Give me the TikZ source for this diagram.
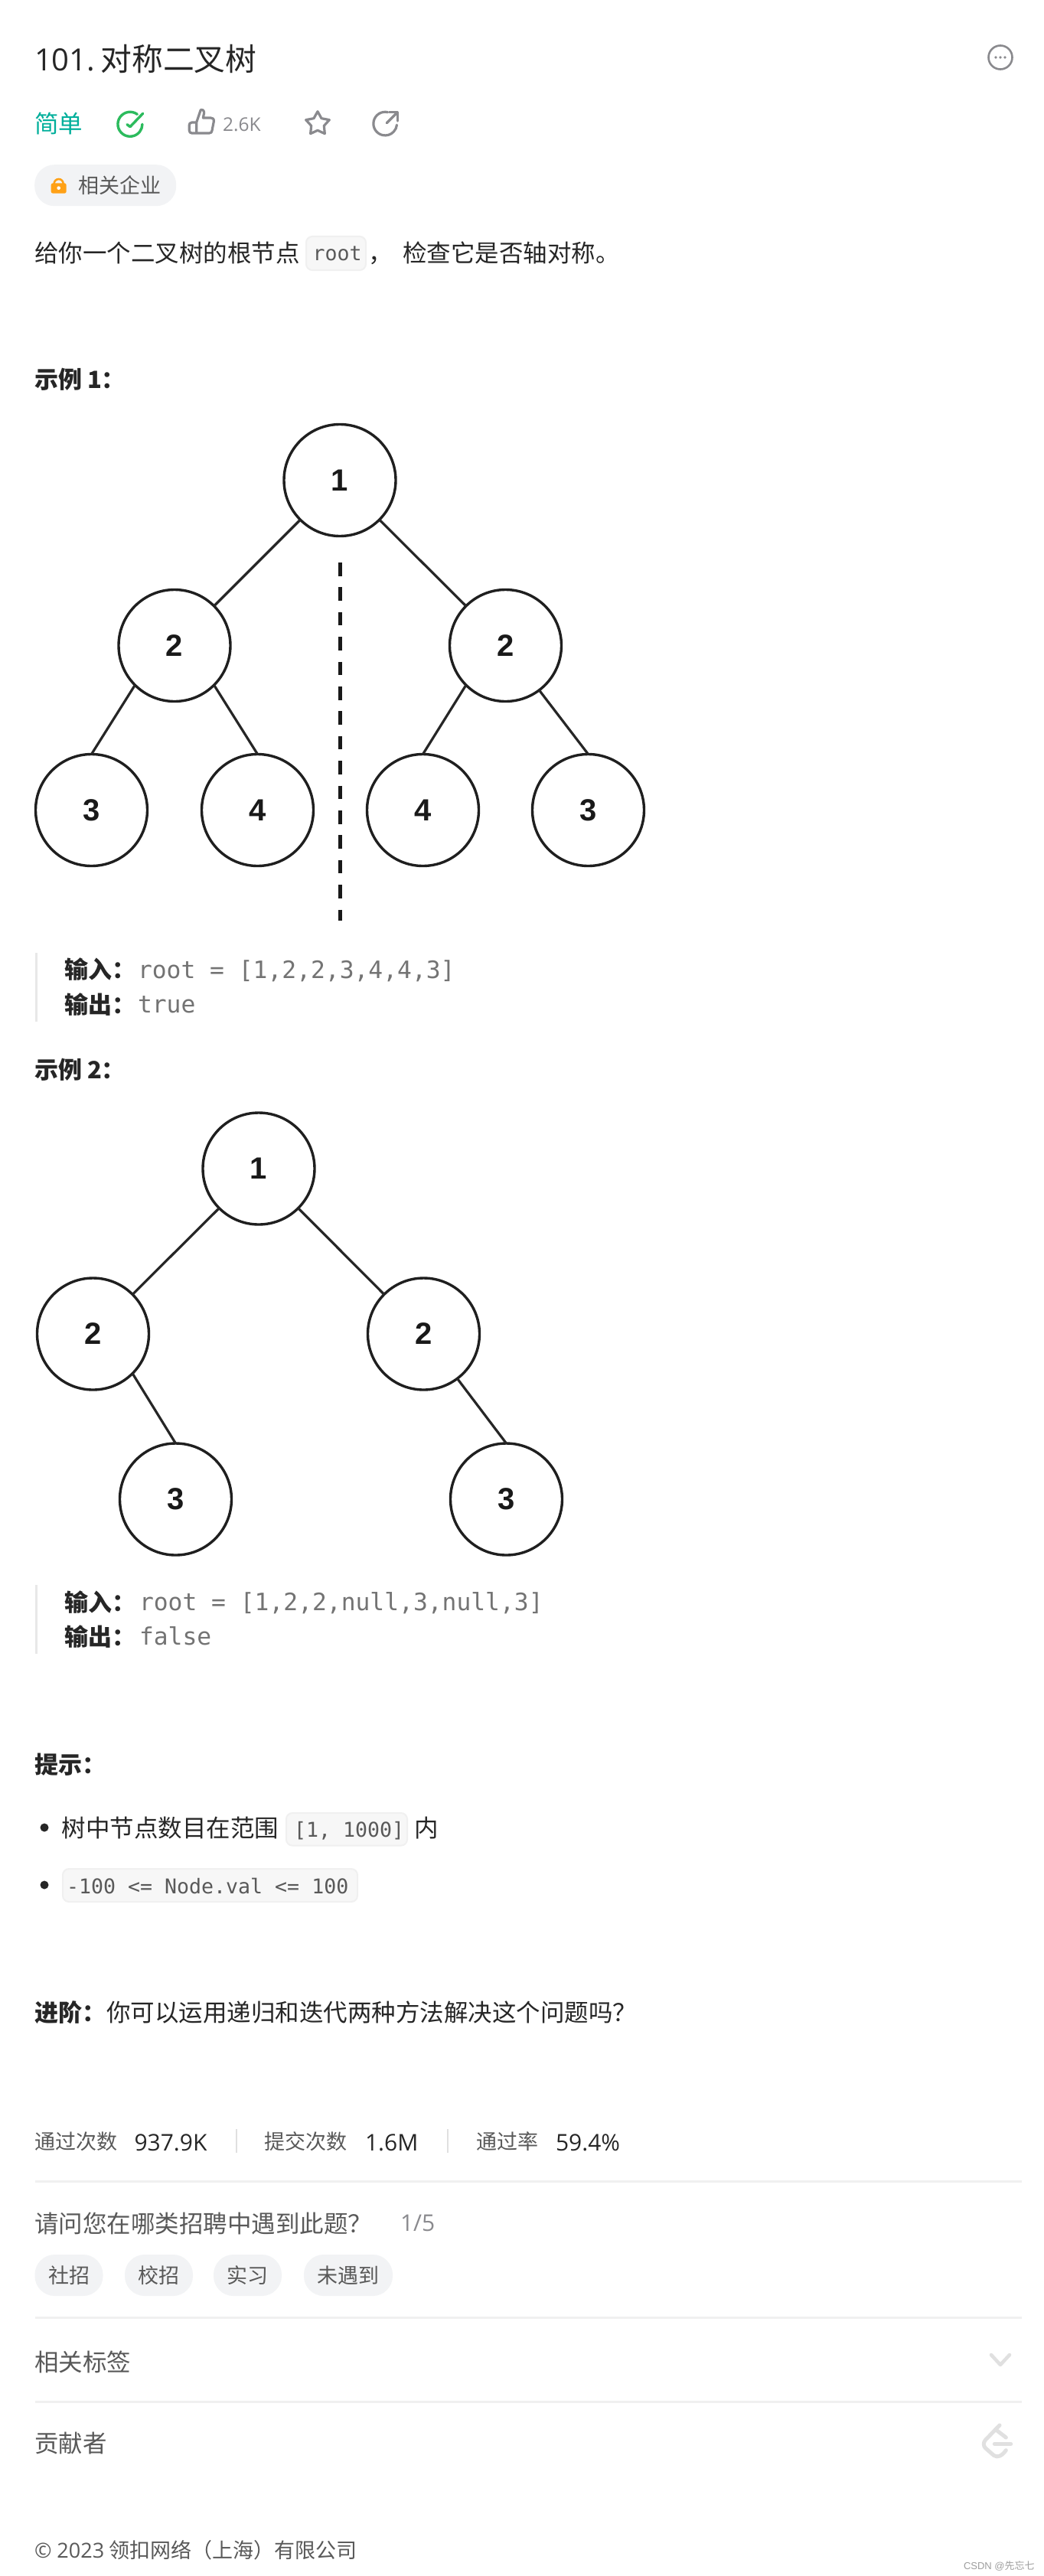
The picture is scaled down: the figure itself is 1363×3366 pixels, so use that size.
\documentclass[tikz,border=0pt]{standalone}
\usepackage{fontspec}
\setmainfont{Noto Sans CJK SC}
\newfontfamily\lat{Open Sans}
\newfontfamily\mono{DejaVu Sans Mono}
\newfontfamily\arial{Liberation Sans}
\newcommand{\fs}[1]{\fontsize{#1}{#1}\selectfont}
\definecolor{ink}{HTML}{262626}
\definecolor{soft}{HTML}{595959}
\definecolor{codeg}{HTML}{737373}
\definecolor{iconG}{HTML}{8A8A8E}
\definecolor{pillbg}{HTML}{F2F3F5}
\definecolor{rule}{HTML}{F0F0F0}
\definecolor{faint}{HTML}{E0E0E0}
\definecolor{teal}{HTML}{00AF9B}
\definecolor{okgreen}{HTML}{2CBB5D}
\definecolor{lockc}{HTML}{FFA116}
\tikzset{
  txt/.style={anchor=base west,inner sep=0pt,outer sep=0pt,xshift=-1pt,text=ink,font=\fs{31.5}},
  softtxt/.style={txt,text=soft,font=\fs{27}},
  bodygray/.style={txt,text=soft},
  head/.style={txt,font=\fs{31}\bfseries},
  codeblock/.style={txt,text=codeg,font=\mono\fs{31.3}},
  codeinline/.style={txt,text=soft,font=\mono\fs{26.6}},
  stat/.style={txt,font=\lat\fs{30}},
  tnode/.style={circle,draw=black!88,fill=white,line width=3.4pt,minimum size=146pt,inner sep=0pt,outer sep=0pt,font=\arial\bfseries\fs{40},text=black!90},
  tedge/.style={draw=black!85,line width=3.2pt},
  codebox/.style={draw=rule,fill=black!3,line width=2pt,rounded corners=8pt},
  pill/.style={fill=pillbg,rounded corners=26pt,inner sep=0pt,outer sep=0pt,minimum height=54pt,text=soft,font=\fs{27}},
  hrule/.style={draw=rule,line width=3pt},
  qbar/.style={fill=black!9,draw=none},
  ico/.style={draw=iconG,line width=3.2pt,line cap=round,line join=round},
}
\begin{document}
\begin{tikzpicture}[x=1pt,y=-1pt]
\useasboundingbox (0,0) rectangle (1363,3366);
\fill[white] (0,0) rectangle (1363,3366);

% header
\node[txt,font=\fs{40.8}] (title) at (46,93) {{\lat\fs{40}101.}\hspace{-5pt} 对称二叉树};
\draw[ico,line width=2.6pt] (1307,75) circle[radius=15.5];
\fill[iconG] (1301,75) circle[radius=1.8] (1307,75) circle[radius=1.8] (1313,75) circle[radius=1.8];
\node[txt,text=teal] (easy) at (46,174) {简单};
\begin{scope}[shift={(130,130)},scale=1/3]
  \draw[ico,draw=okgreen,line width=3.4pt] (148,58) arc[start angle=-54,end angle=-360,radius=48];
  \draw[ico,draw=okgreen,line width=3.4pt] (108,98) -- (120,107) -- (170,55);
  % thumb
  \draw[ico] (380,90) -- (362,90) .. controls (354,90) and (352,96) .. (352,100) -- (352,122) .. controls (352,128) and (356,132) .. (362,132) -- (430,132) .. controls (438,132) and (440,128) .. (441,122) -- (448,86) .. controls (449,76) and (444,72) .. (436,72) -- (406,72) -- (410,52) .. controls (410,42) and (402,38) .. (397,40) -- (380,90) -- (380,132);
  % star
  \draw[ico] (855,47) -- (870,74) -- (901,80) -- (880,103) -- (883,134) -- (855,121) -- (827,134) -- (830,103) -- (809,80) -- (840,74) -- cycle;
  % share
  \draw[ico] (1130,50) arc[start angle=-77,end angle=-354,radius=46];
  \draw[ico] (1126,92) -- (1168,50);
  \draw[ico] (1136,50) -- (1168,50) -- (1168,84);
\end{scope}
\node[txt,text=iconG,font=\lat\fs{24.5}] (likes) at (292,172) {2.6K};

\node[fill=pillbg,rounded corners=26pt,minimum width=185pt,minimum height=54pt,inner sep=0pt,anchor=north west] (compp) at (45,215) {};
\node[softtxt] (comp) at (103,253) {相关企业};
\begin{scope}[shift={(40,210)},scale=1/3]
  \draw[lockc,line width=2.6pt] (92,90) arc[start angle=180,end angle=360,radius=18];
  \fill[lockc,rounded corners=2.5pt] (80,88) rectangle (140,128);
  \fill[white] (110,107) circle[radius=7];
\end{scope}

% description
\node[txt] (d1) at (46,342) {给你一个二叉树的根节点};
\draw[codebox] (400,309) rectangle (478,353);
\node[codeinline] (d2) at (409.5,341) {root};
\node[txt] (d3) at (482,342) {，};
\node[txt] (d4) at (527,342) {检查它是否轴对称。};

% example 1
\node[head] (ex1) at (46,507) {示例 1：};
\node[tnode] (a1) at (444,627.5) {1};
\node[tnode] (a2) at (228,843.5) {2};
\node[tnode] (a3) at (660.5,843.5) {2};
\node[tnode] (a4) at (119.5,1058.5) {3};
\node[tnode] (a5) at (336.5,1058.5) {4};
\node[tnode] (a6) at (552.5,1058.5) {4};
\node[tnode] (a7) at (768.5,1058.5) {3};
\draw[tedge] (a1.south west) -- (a2.north east);
\draw[tedge] (a1.south east) -- (a3.north west);
\draw[tedge] (a2.south west) -- (a4.north);
\draw[tedge] (a2.south east) -- (a5.north);
\draw[tedge] (a3.south west) -- (a6.north);
\draw[tedge] (a3.-53) -- (a7.north);
\coordinate (axisTop) at (444,735);
\coordinate (axisBot) at (444,1203);
\draw[black!90,line width=5pt,dash pattern=on 17.5pt off 14.9pt] (axisTop) -- (axisBot);

\fill[qbar] (46,1245) rectangle (49,1335);
\node[head] (in1) at (85,1278) {输入：};
\node[codeblock] (in1v) at (181,1278) {root = [1,2,2,3,4,4,3]};
\node[head] (out1) at (85,1324) {输出：};
\node[codeblock] (out1v) at (181,1323) {true};

% example 2
\node[head] (ex2) at (46,1409) {示例 2：};
\node[tnode] (b1) at (338,1527) {1};
\node[tnode] (b2) at (121.5,1743) {2};
\node[tnode] (b3) at (553.5,1743) {2};
\node[tnode] (b4) at (229.5,1959) {3};
\node[tnode] (b5) at (661.5,1959) {3};
\draw[tedge] (b1.south west) -- (b2.north east);
\draw[tedge] (b1.south east) -- (b3.north west);
\draw[tedge] (b2.south east) -- (b4.north);
\draw[tedge] (b3.-53) -- (b5.north);

\fill[qbar] (46,2071) rectangle (49,2161);
\node[head] (in2) at (85,2105) {输入：};
\node[codeblock] (in2v) at (183,2104) {root = [1,2,2,null,3,null,3]};
\node[head] (out2) at (85,2150) {输出：};
\node[codeblock] (out2v) at (183,2149) {false};

% hints
\node[head] (hint) at (46,2317) {提示：};
\fill[ink] (58,2388) circle[radius=5.5];
\node[txt] (h1) at (81.5,2400) {树中节点数目在范围};
\draw[codebox] (374,2369) rectangle (532,2411.5);
\node[codeinline] (h1c) at (385,2400) {[1, 1000]};
\node[txt] (h1e) at (542,2400) {内};
\fill[ink] (58,2463) circle[radius=5.5];
\draw[codebox] (82,2442) rectangle (467,2485);
\node[codeinline] (h2c) at (88,2474) {-100 <= Node.val <= 100};

\node[head] (adv) at (46,2641) {进阶：};
\node[txt] (advt) at (140,2641) {你可以运用递归和迭代两种方法解决这个问题吗？};

% stats
\node[softtxt] (s1) at (46,2808) {通过次数};
\node[stat] (s1v) at (176.5,2810) {937.9K};
\draw[draw=black!12,line width=1.5pt] (309,2782) -- (309,2813);
\node[softtxt] (s2) at (346,2808) {提交次数};
\node[stat] (s2v) at (478,2810) {1.6M};
\draw[draw=black!12,line width=1.5pt] (585,2782) -- (585,2813);
\node[softtxt] (s3) at (623,2808) {通过率};
\node[stat] (s3v) at (727,2810) {59.4\%};
\draw[hrule] (46,2850) -- (1335,2850);

% survey
\node[bodygray] (q) at (46,2917) {请问您在哪类招聘中遇到此题？};
\node[txt,text=iconG,font=\lat\fs{30}] (qn) at (524,2915) {1/5};
\node[pill,minimum width=89pt] (p1) at (90,2973) {社招};
\node[pill,minimum width=89pt] (p2) at (207.5,2973) {校招};
\node[pill,minimum width=89pt] (p3) at (323.5,2973) {实习};
\node[pill,minimum width=116pt] (p4) at (455,2973) {未遇到};
\draw[hrule] (46,3028) -- (1335,3028);

\node[bodygray] (tags) at (46,3098) {相关标签};
\draw[draw=faint,line width=4.5pt,line cap=round,line join=round] (1295,3077) -- (1307,3090) -- (1319,3077);
\draw[hrule] (46,3138) -- (1335,3138);

\node[bodygray] (contrib) at (46,3204) {贡献者};
\begin{scope}[shift={(1270,3060)},scale=1/3]
  \draw[draw=faint,line width=5pt,line cap=round,line join=round]
    (108,327) -- (52,385) .. controls (44,394) and (44,408) .. (52,416) -- (85,445) .. controls (100,456) and (118,446) .. (133,425);
  \draw[draw=faint,line width=5pt,line cap=round] (94,345) -- (133,375);
  \draw[draw=faint,line width=5pt,line cap=round] (88,400) -- (152,400);
\end{scope}

\node[softtxt] (copy) at (46,3342) {{\lat © 2023} 领扣网络（上海）有限公司};
\node[txt,text=black!38,font=\fs{13}] (wm) at (1260,3357) {{\arial CSDN @}先忘七};
\end{tikzpicture}
\end{document}
